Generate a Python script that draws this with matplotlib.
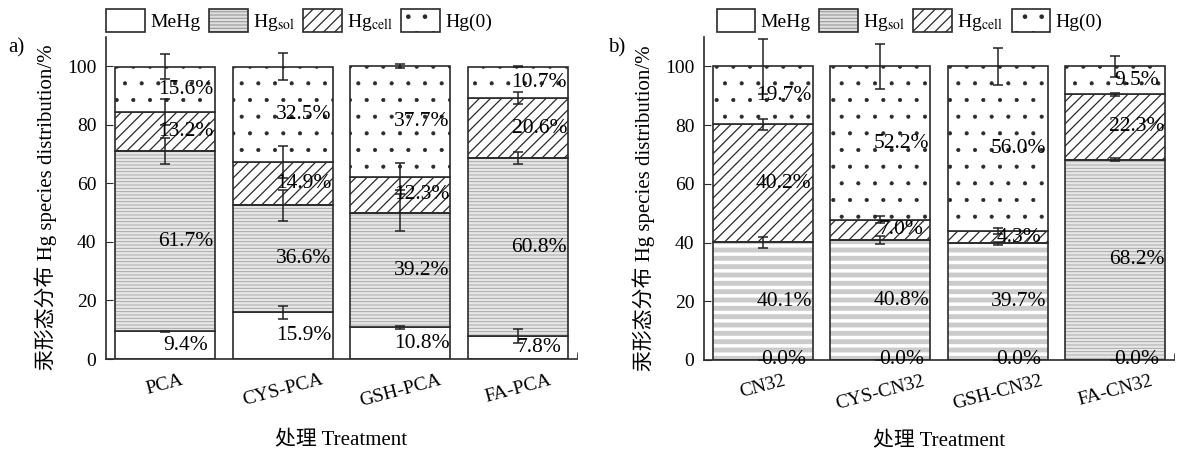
import matplotlib
matplotlib.use("Agg")
import matplotlib.pyplot as plt
import numpy as np
from matplotlib.patches import Patch
from matplotlib.legend_handler import HandlerTuple

plt.rcParams['font.family'] = ['Liberation Serif', 'Noto Sans CJK SC']
plt.rcParams['mathtext.fontset'] = 'stix'
plt.rcParams['hatch.linewidth'] = 0.9
plt.rcParams['axes.unicode_minus'] = False

# ---------------- data ----------------
cats_a = ['PCA', 'CYS-PCA', 'GSH-PCA', 'FA-PCA']
mehg_a = [9.4, 15.9, 10.8, 7.8]
sol_a = [61.7, 36.6, 39.2, 60.8]
cell_a = [13.2, 14.9, 12.3, 20.6]
hg0_a = [15.6, 32.5, 37.7, 10.7]
err_mehg_a = [0.3, 2.2, 0.5, 2.4]
err_sol_a = [4.4, 5.4, 6.2, 2.0]
err_cell_a = [4.4, 5.4, 4.5, 2.0]
err_hg0_a = [4.4, 4.5, 0.7, 0.3]

cats_b = ['CN32', 'CYS-CN32', 'GSH-CN32', 'FA-CN32']
mehg_b = [0.0, 0.0, 0.0, 0.0]
sol_b = [40.1, 40.8, 39.7, 68.2]
cell_b = [40.2, 7.0, 4.3, 22.3]
hg0_b = [19.7, 52.2, 56.0, 9.5]
err_mehg_b = [0.0, 0.0, 0.0, 0.0]
err_sol_b = [1.8, 1.3, 0.5, 0.5]
err_cell_b = [1.9, 1.3, 1.0, 0.5]
err_hg0_b = [9.4, 7.7, 6.4, 3.5]

legend_labels = ['MeHg', r'Hg$_{\mathrm{sol}}$', r'Hg$_{\mathrm{cell}}$', 'Hg(0)']

W, H = 1179, 454
fig = plt.figure(figsize=(W / 100, H / 100), dpi=100)
axA = fig.add_axes([106 / W, (H - 359) / H, 471 / W, 322 / H])
axB = fig.add_axes([704 / W, (H - 360) / H, 470 / W, 323 / H])

EDGE = '#2a2a2a'
BW = 0.85


def sol_style(ax, x, vals, bottom, kind):
    if kind == 'fine':
        with plt.rc_context({'hatch.linewidth': 0.6}):
            ax.bar(x, vals, BW, bottom=bottom, facecolor='#e6e6e6', edgecolor='#a0a0a0',
                   hatch='-----', linewidth=0, zorder=2)
    else:
        with plt.rc_context({'hatch.linewidth': 2.5}):
            ax.bar(x, vals, BW, bottom=bottom, facecolor='#cbcbcb', edgecolor='white',
                   hatch='--', linewidth=0, zorder=2)
    ax.bar(x, vals, BW, bottom=bottom, fill=False, edgecolor=EDGE, linewidth=1.2, zorder=3)


def panel(ax, cats, mehg, sol, cell, hg0, emehg, esol, ecell, ehg0, sol_kinds):
    x = np.arange(len(cats))
    mehg = np.array(mehg); sol = np.array(sol); cell = np.array(cell); hg0 = np.array(hg0)
    b1 = mehg
    b2 = mehg + sol
    b3 = b2 + cell
    b4 = b3 + hg0
    ax.bar(x, mehg, BW, facecolor='white', edgecolor=EDGE, linewidth=1.2, zorder=2)
    for i in range(len(cats)):
        sol_style(ax, x[i], sol[i], b1[i], sol_kinds[i])
    with plt.rc_context({'hatch.linewidth': 0.9}):
        ax.bar(x, cell, BW, bottom=b2, facecolor='white', edgecolor=EDGE, hatch='///',
               linewidth=1.2, zorder=2)
    with plt.rc_context({'hatch.linewidth': 0.5}):
        ax.bar(x, hg0, BW, bottom=b3, facecolor='white', edgecolor=EDGE, hatch='.',
               linewidth=1.2, zorder=2)
    for tops, errs in ((b1, emehg), (b2, esol), (b3, ecell), (b4, ehg0)):
        ax.errorbar(x, tops, yerr=errs, fmt='none', ecolor='#222222', elinewidth=1.1,
                    capsize=3.5, capthick=1.1, zorder=5)
    for vals, bots in ((mehg, np.zeros(len(cats))), (sol, b1), (cell, b2), (hg0, b3)):
        for i in range(len(cats)):
            ax.text(x[i] + 0.18, bots[i] + vals[i] / 2, f'{vals[i]:.1f}%', ha='center',
                    va='center', fontsize=15.5, zorder=6)
    ax.set_xlim(-0.5, len(cats) - 0.5)
    ax.set_ylim(0, 110)
    ax.set_yticks([0, 20, 40, 60, 80, 100])
    ax.set_xticks(x)
    ax.set_xticklabels(cats, rotation=15, fontsize=14)
    ax.set_xticks([len(cats) - 0.5], minor=True)
    ax.tick_params(axis='x', which='major', length=0, pad=9)
    ax.tick_params(axis='x', which='minor', direction='in', length=5, color=EDGE)
    ax.tick_params(axis='y', direction='in', length=5, labelsize=14, pad=7, color=EDGE)
    for s in ('top', 'right'):
        ax.spines[s].set_visible(False)
    for s in ('left', 'bottom'):
        ax.spines[s].set_color(EDGE)
        ax.spines[s].set_linewidth(1.2)
    ax.set_ylabel('汞形态分布 Hg species distribution/%', fontsize=15)
    ax.yaxis.set_label_coords(-0.105, 0.47)
    ax.set_xlabel('处理 Treatment', fontsize=15)
    ax.xaxis.set_label_coords(0.5, -0.225)


panel(axA, cats_a, mehg_a, sol_a, cell_a, hg0_a, err_mehg_a, err_sol_a, err_cell_a,
      err_hg0_a, ['fine'] * 4)
panel(axB, cats_b, mehg_b, sol_b, cell_b, hg0_b, err_mehg_b, err_sol_b, err_cell_b,
      err_hg0_b, ['stripe', 'stripe', 'stripe', 'fine'])


def make_handles():
    with plt.rc_context({'hatch.linewidth': 0.6}):
        h_sol_fill = Patch(facecolor='#e0e0e0', edgecolor='#a0a0a0', hatch='-----', linewidth=0)
    h_sol_edge = Patch(fill=False, edgecolor=EDGE, linewidth=1.2)
    with plt.rc_context({'hatch.linewidth': 0.9}):
        h_cell = Patch(facecolor='white', edgecolor=EDGE, hatch='///', linewidth=1.2)
    with plt.rc_context({'hatch.linewidth': 0.5}):
        h_hg0 = Patch(facecolor='white', edgecolor=EDGE, hatch='.', linewidth=1.2)
    return [Patch(facecolor='white', edgecolor=EDGE, linewidth=1.2),
            (h_sol_fill, h_sol_edge), h_cell, h_hg0]


for ax, cx in ((axA, 0.41), (axB, 0.437)):
    ax.legend(make_handles(), legend_labels, loc='center', bbox_to_anchor=(cx, 1.05),
              ncol=4, frameon=False, fontsize=14, handlelength=2.0, handleheight=1.5,
              handletextpad=0.25, columnspacing=0.45, borderaxespad=0, borderpad=0,
              handler_map={tuple: HandlerTuple(ndivide=1, pad=0)})

fig.text(8 / W, 1 - 48 / H, 'a)', fontsize=15, va='center', ha='left')
fig.text(608 / W, 1 - 48 / H, 'b)', fontsize=15, va='center', ha='left')

fig.savefig('out.png', dpi=100)
